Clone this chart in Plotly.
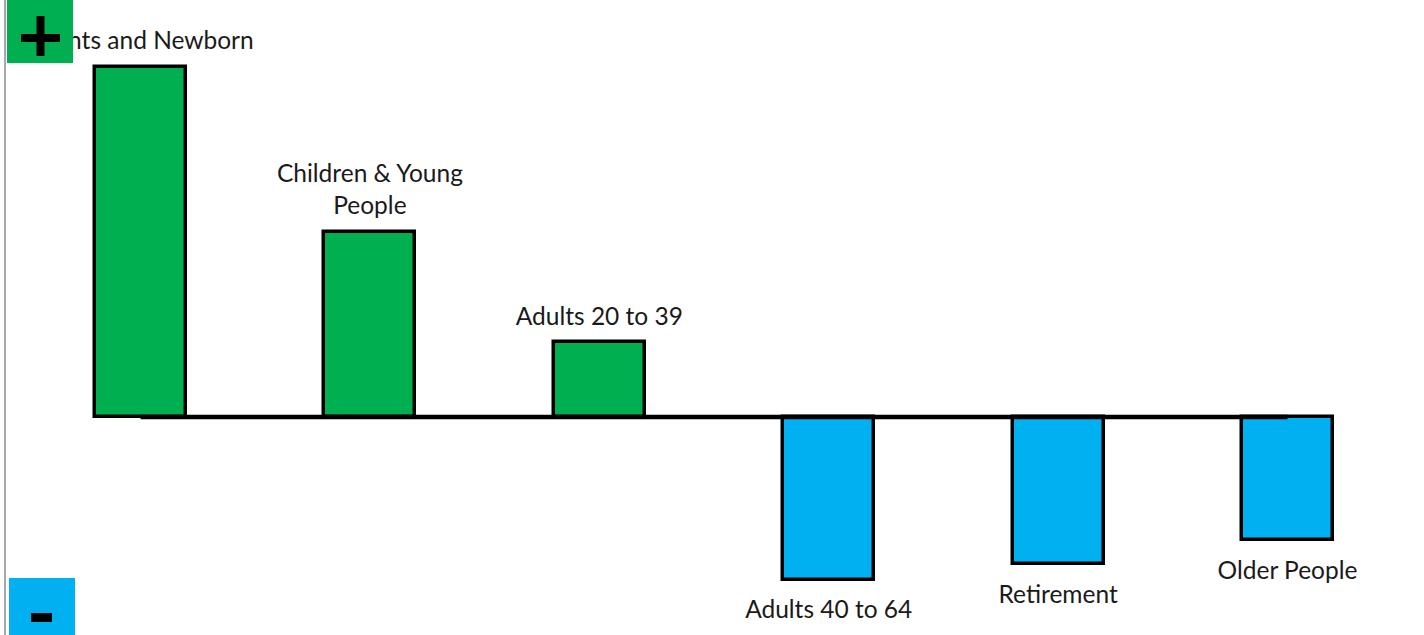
import plotly.graph_objects as go

categories = ["Infants and Newborn", "Children & Young<br>People", "Adults 20 to 39",
              "Adults 40 to 64", "Retirement", "Older People"]
values = [35.0, 18.5, 7.5, -16.3, -14.7, -12.3]
colors = ["#00B050", "#00B050", "#00B050", "#00B0F0", "#00B0F0", "#00B0F0"]

W, H = 1424, 635
x = list(range(len(categories)))
PX_PER_UNIT = 10.0
# label offsets in px (center of text block from bar end)
offs = [24, 40, 23, -32, -33, -33]
label_y = [v + o / PX_PER_UNIT for v, o in zip(values, offs)]

fig = go.Figure()
fig.add_trace(go.Bar(x=x, y=values, marker=dict(color=colors, line=dict(color="black", width=3.5)),
                     width=0.397, showlegend=False, hoverinfo="skip"))
fig.add_trace(go.Scatter(x=[0, 5], y=[0, 0], mode="lines", line=dict(color="black", width=4.5),
                         showlegend=False, hoverinfo="skip"))
fig.add_trace(go.Scatter(x=x, y=label_y, mode="text", text=categories, textposition="middle center",
                         textfont=dict(family="Lato", size=24.5, color="#1a1a1a"),
                         showlegend=False, hoverinfo="skip", cliponaxis=False))

def px(xp):
    return xp / W

def py(yp):
    return 1 - yp / H

shapes = [
    dict(type="line", xref="paper", yref="paper", x0=px(5), x1=px(5), y0=0, y1=1,
         line=dict(color="#a8a8a8", width=2), layer="above"),
    dict(type="rect", xref="paper", yref="paper", x0=px(7), x1=px(73), y0=py(63), y1=py(0),
         fillcolor="#00B050", line=dict(width=0), layer="above"),
    dict(type="rect", xref="paper", yref="paper", x0=px(21), x1=px(60), y0=py(42), y1=py(34),
         fillcolor="black", line=dict(width=0), layer="above"),
    dict(type="rect", xref="paper", yref="paper", x0=px(36.5), x1=px(44.5), y0=py(56), y1=py(16),
         fillcolor="black", line=dict(width=0), layer="above"),
    dict(type="rect", xref="paper", yref="paper", x0=px(9), x1=px(75), y0=py(635), y1=py(578),
         fillcolor="#00B0F0", line=dict(width=0), layer="above"),
    dict(type="rect", xref="paper", yref="paper", x0=px(31), x1=px(52), y0=py(622), y1=py(613),
         fillcolor="black", line=dict(width=0), layer="above"),
]

fig.update_layout(
    width=W, height=H, margin=dict(l=0, r=0, t=0, b=0),
    paper_bgcolor="white", plot_bgcolor="white",
    xaxis=dict(range=[-0.6125, 5.595], visible=False, fixedrange=True),
    yaxis=dict(range=[-21.8, 41.7], visible=False, fixedrange=True),
    shapes=shapes, bargap=0,
)
fig.write_html("out.html", config={"displayModeBar": False},
               post_script="document.body.style.margin='0';document.body.style.overflow='hidden';")
